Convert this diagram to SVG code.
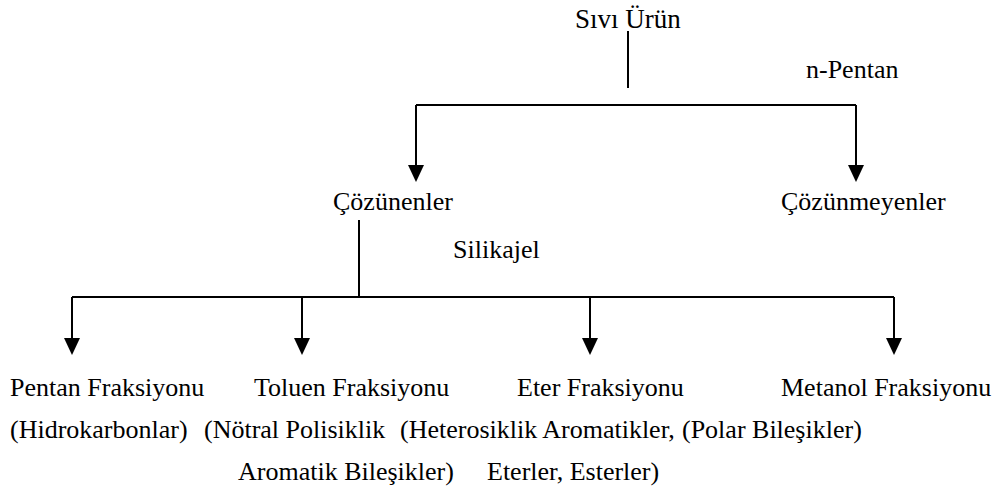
<svg xmlns="http://www.w3.org/2000/svg" width="999" height="496" viewBox="0 0 999 496">
<style>
text{font-family:"Liberation Serif","Times New Roman",serif;font-size:26px;fill:#000}
.ln{stroke:#000;stroke-width:2;fill:none}
.ah{fill:#000}
</style>
<rect width="999" height="496" fill="#fff"/>
<g id="connectors">
<path class="ln" d="M628,31 V88"/>
<path class="ln" d="M416,105 H856"/>
<path class="ln" d="M416,105 V166"/><path class="ah" d="M408,165 L424,165 L416,182 Z"/>
<path class="ln" d="M856,105 V166"/><path class="ah" d="M848,165 L864,165 L856,182 Z"/>
<path class="ln" d="M359,220 V297"/>
<path class="ln" d="M72,297 H894"/>
<path class="ln" d="M72,297 V339"/><path class="ah" d="M64,338 L80,338 L72,355 Z"/>
<path class="ln" d="M302,297 V339"/><path class="ah" d="M294,338 L310,338 L302,355 Z"/>
<path class="ln" d="M590,297 V339"/><path class="ah" d="M582,338 L598,338 L590,355 Z"/>
<path class="ln" d="M894,297 V339"/><path class="ah" d="M886,338 L902,338 L894,355 Z"/>
</g>
<g id="sivi-urun"><text x="575" y="28" style="font-size:27px">Sıvı Ürün</text></g>
<g id="n-pentan"><text x="806" y="78">n-Pentan</text></g>
<g id="cozunenler"><text x="333" y="210">Çözünenler</text></g>
<g id="cozunmeyenler"><text x="781" y="210">Çözünmeyenler</text></g>
<g id="silikajel"><text x="453" y="258">Silikajel</text></g>
<g id="pentan-fraksiyonu"><text x="10" y="396">Pentan Fraksiyonu</text><text x="10" y="438">(Hidrokarbonlar)</text></g>
<g id="toluen-fraksiyonu"><text x="254" y="396">Toluen Fraksiyonu</text><text x="204" y="438">(Nötral Polisiklik</text><text x="238" y="480">Aromatik Bileşikler)</text></g>
<g id="eter-fraksiyonu"><text x="517" y="396">Eter Fraksiyonu</text><text x="400" y="438">(Heterosiklik Aromatikler,</text><text x="487" y="480">Eterler, Esterler)</text></g>
<g id="metanol-fraksiyonu"><text x="781" y="396">Metanol Fraksiyonu</text><text x="682" y="438">(Polar Bileşikler)</text></g>
</svg>
